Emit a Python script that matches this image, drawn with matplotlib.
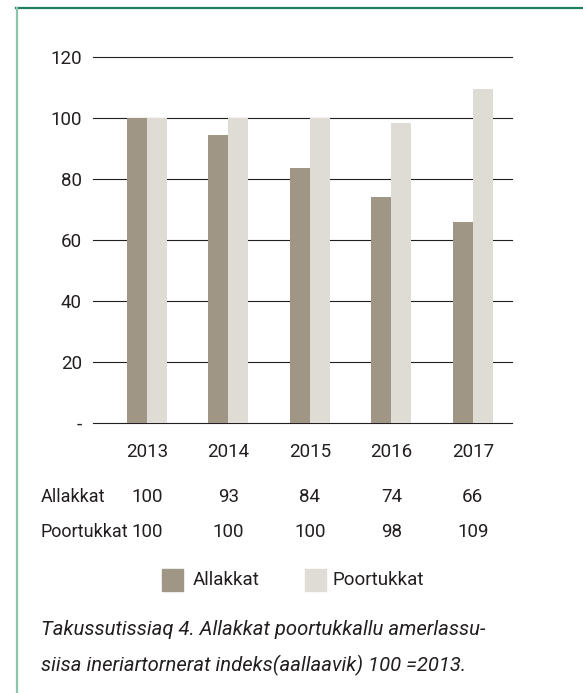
import matplotlib.pyplot as plt
import numpy as np
from matplotlib.lines import Line2D

years = ["2013", "2014", "2015", "2016", "2017"]
allakkat = [100, 94.4, 83.6, 74.1, 65.9]
poortukkat = [100, 100, 100, 98.4, 109.5]
allakkat_tbl = ["100", "93", "84", "74", "66"]
poortukkat_tbl = ["100", "100", "100", "98", "109"]
yticks = [0, 20, 40, 60, 80, 100, 120]
ytick_labels = ["-", "20", "40", "60", "80", "100", "120"]
caption = ("Takussutissiaq 4. Allakkat poortukkallu amerlassu-\n"
           "siisa ineriartornerat indeks(aallaavik) 100 =2013.")

c_all = "#a09686"
c_poo = "#dfdcd5"
txt = "#231f20"

plt.rcParams["font.family"] = ["Roboto", "DejaVu Sans"]

W, H = 583, 693
fig = plt.figure(figsize=(W / 100, H / 100), dpi=100)

# axes in pixel coords
x0, x1 = 93, 512
y_top, y_bot = 57, 423
ax = fig.add_axes([x0 / W, 1 - y_bot / H, (x1 - x0) / W, (y_bot - y_top) / H])

x = np.arange(len(years))
bw = 0.245
ax.bar(x - bw / 2, allakkat, bw, color=c_all, zorder=3)
ax.bar(x + bw / 2, poortukkat, bw, color=c_poo, zorder=3)
ax.set_xlim(-0.66, 4.48)
ax.set_ylim(0, 120)
ax.set_yticks(yticks)
ax.set_yticklabels(ytick_labels, fontsize=13.5, color=txt)
ax.yaxis.grid(True, color="#231f20", lw=0.8, zorder=0)
for gl in ax.get_ygridlines():
    gl.set_clip_on(False)
ax.tick_params(axis="y", length=0, pad=8)
ax.set_xticks([])
for s in ax.spines.values():
    s.set_visible(False)

def px(xd):
    return ax.transData.transform((xd, 0))[0] / W

fs = 13.5
# year labels and table
for i, yr in enumerate(years):
    fig.text(px(i), 1 - 452 / H, yr, ha="center", va="center", fontsize=fs, color=txt)
    fig.text(px(i), 1 - 497 / H, allakkat_tbl[i], ha="center", va="center", fontsize=fs, color=txt)
    fig.text(px(i), 1 - 532 / H, poortukkat_tbl[i], ha="center", va="center", fontsize=fs, color=txt)
fig.text(41 / W, 1 - 497 / H, "Allakkat", ha="left", va="center", fontsize=13, color=txt)
fig.text(41 / W, 1 - 532 / H, "Poortukkat", ha="left", va="center", fontsize=13, color=txt)

# legend
fig.patches.append(plt.Rectangle((162 / W, 1 - 591 / H), 21 / W, 22 / H,
                                 transform=fig.transFigure, color=c_all))
fig.text(193 / W, 1 - 580 / H, "Allakkat", ha="left", va="center", fontsize=fs, color=txt)
fig.patches.append(plt.Rectangle((305 / W, 1 - 591 / H), 21 / W, 22 / H,
                                 transform=fig.transFigure, color=c_poo))
fig.text(333 / W, 1 - 580 / H, "Poortukkat", ha="left", va="center", fontsize=fs, color=txt)

# caption
fig.text(41 / W, 1 - 648 / H, caption, ha="left", va="center", fontsize=14.6,
         style="italic", color=txt, linespacing=1.95)

# frame lines
fig.add_artist(Line2D([16 / W, 1], [1 - 8 / H] * 2, color="#1e7e5e", lw=1.6))
fig.add_artist(Line2D([16.5 / W] * 2, [0, 1 - 8 / H], color="#8cc4ac", lw=1.6))

fig.savefig("out.png", dpi=100)
